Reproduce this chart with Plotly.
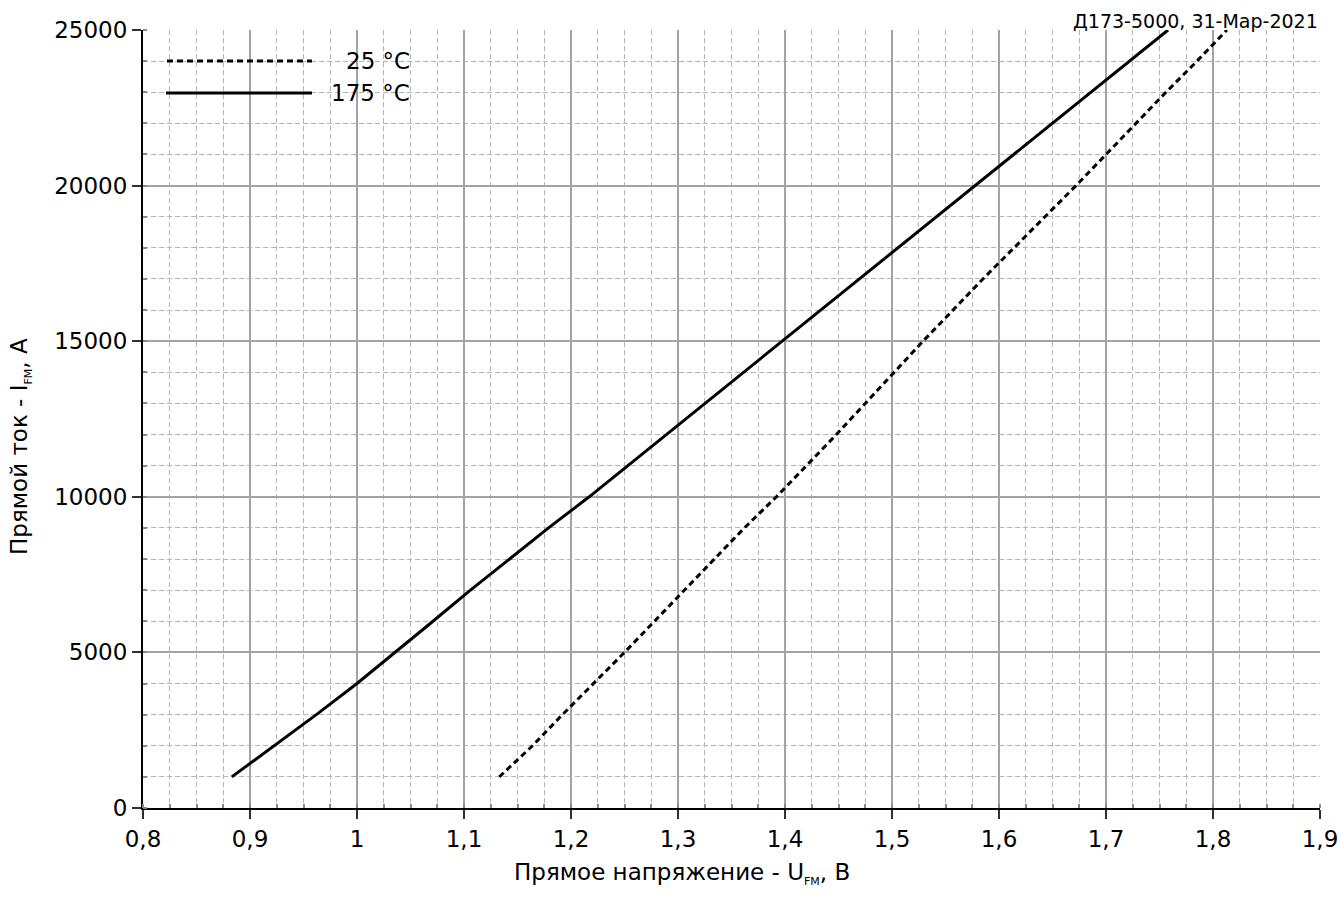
import plotly.graph_objects as go

# Forward current, A (same grid of currents for both temperatures)
current_a = [1000, 2000, 3000, 4000, 5000, 6000, 7000, 8000, 9000, 10000,
             11000, 12000, 13000, 14000, 15000, 16000, 17000, 18000, 19000,
             20000, 21000, 22000, 23000, 24000, 25000]

# Forward voltage at Tj = 25 °C, V
voltage_25 = [1.133, 1.164, 1.192, 1.221, 1.250, 1.278, 1.306, 1.334, 1.362,
              1.392, 1.420, 1.448, 1.475, 1.502, 1.529, 1.557, 1.585, 1.614,
              1.643, 1.672, 1.700, 1.728, 1.756, 1.785, 1.813]

# Forward voltage at Tj = 175 °C, V
voltage_175 = [0.883, 0.923, 0.962, 1.000, 1.036, 1.071, 1.106, 1.142, 1.179,
               1.217, 1.253, 1.289, 1.325, 1.362, 1.398, 1.433, 1.469, 1.505,
               1.541, 1.578, 1.614, 1.649, 1.685, 1.722, 1.758]

series_names = ["25 °C", "175 °C"]
x_range = [0.8, 1.9]
y_range = [0, 25000]
header_text = "Д173-5000, 31-Мар-2021"
x_title = "Прямое напряжение - U<sub><span style='font-size:11px'>FM</span></sub>, В"
y_title = "Прямой ток - I<sub><span style='font-size:11px'>FM</span></sub>, А"

FONT = "DejaVu Sans, sans-serif"
FS = 23
W, H = 1339, 899
M_L, M_R, M_T, M_B = 143, 19, 30, 91
PW, PH = W - M_L - M_R, H - M_T - M_B


def px_x(p):
    return (p - M_L) / PW


def px_y(p):
    return 1 - (p - M_T) / PH


fig = go.Figure()
fig.add_trace(go.Scatter(x=voltage_25, y=current_a, mode="lines",
                         name=series_names[0], showlegend=False,
                         line=dict(color="black", width=3, dash="6px,4px")))
fig.add_trace(go.Scatter(x=voltage_175, y=current_a, mode="lines",
                         name=series_names[1], showlegend=False,
                         line=dict(color="black", width=3)))

grid_major = "#a3a3a3"
grid_minor = "#b5b5b5"

axis_common = dict(
    showline=True, linecolor="black", linewidth=2,
    showgrid=True, gridcolor=grid_major, gridwidth=1.5,
    ticks="outside", ticklen=9, tickwidth=1.5, tickcolor="#303030",
    zeroline=False, automargin=False,
    tickfont=dict(family=FONT, size=FS, color="black"),
)

fig.update_xaxes(
    range=x_range, tick0=0.8, dtick=0.1, **axis_common,
    minor=dict(dtick=0.025, tick0=0.8, showgrid=True, gridcolor=grid_minor,
               gridwidth=1, griddash="5px,3px", ticks="inside", ticklen=4,
               tickcolor="#888888"),
)
fig.update_yaxes(
    range=y_range, tick0=0, dtick=5000, tickformat="d", **axis_common,
    minor=dict(dtick=1000, tick0=0, showgrid=True, gridcolor=grid_minor,
               gridwidth=1, griddash="5px,3px", ticks="inside", ticklen=4,
               tickcolor="#888888"),
)

# Legend panel: white box over the grid with hand-placed samples
shapes = [
    dict(type="rect", xref="paper", yref="paper", layer="between",
         x0=px_x(M_L + 1), x1=px_x(433), y0=px_y(126), y1=px_y(M_T + 2),
         fillcolor="white", line=dict(width=0)),
    dict(type="line", xref="paper", yref="paper", layer="above",
         x0=px_x(167), x1=px_x(312), y0=px_y(61), y1=px_y(61),
         line=dict(color="black", width=3, dash="6px,4px")),
    dict(type="line", xref="paper", yref="paper", layer="above",
         x0=px_x(166), x1=px_x(312), y0=px_y(93), y1=px_y(93),
         line=dict(color="black", width=3)),
]

annotations = [
    dict(text=series_names[0], xref="paper", yref="paper", x=px_x(412),
         y=px_y(61), xanchor="right", yanchor="middle", showarrow=False,
         font=dict(family=FONT, size=FS, color="black")),
    dict(text=series_names[1], xref="paper", yref="paper", x=px_x(412),
         y=px_y(93), xanchor="right", yanchor="middle", showarrow=False,
         font=dict(family=FONT, size=FS, color="black")),
    dict(text=header_text, xref="paper", yref="paper", x=px_x(1320),
         y=1, xanchor="right", yanchor="bottom", showarrow=False, yshift=-4,
         font=dict(family=FONT, size=19, color="black")),
    # axis titles
    dict(text=x_title, xref="paper", yref="paper", x=px_x(682),
         y=px_y(873), xanchor="center", yanchor="middle", showarrow=False,
         font=dict(family=FONT, size=FS, color="black")),
    dict(text=y_title, xref="paper", yref="paper", x=px_x(20),
         y=px_y(447), xanchor="center", yanchor="middle", showarrow=False,
         textangle=-90, font=dict(family=FONT, size=FS, color="black")),
]

fig.update_layout(
    width=W, height=H,
    margin=dict(l=M_L, r=M_R, t=M_T, b=M_B, pad=0),
    paper_bgcolor="white", plot_bgcolor="white",
    separators=", ",
    shapes=shapes, annotations=annotations,
    font=dict(family=FONT, size=FS, color="black"),
)

fig.write_html("out.html")
